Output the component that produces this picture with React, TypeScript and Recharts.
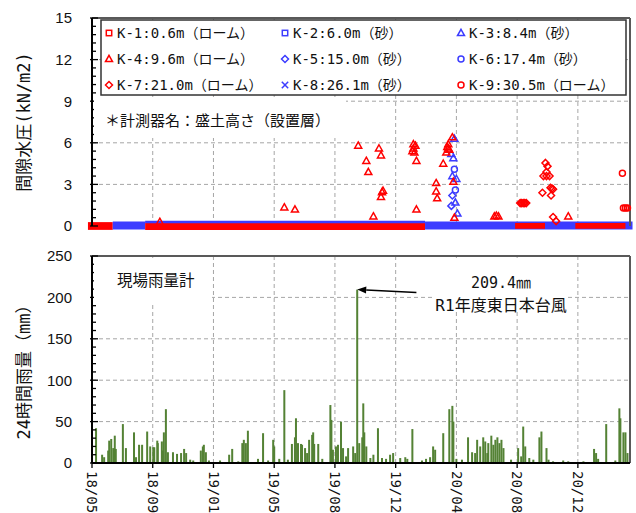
import React from "react";
import {
  ScatterChart,
  Scatter,
  ComposedChart,
  Bar,
  XAxis,
  YAxis,
  CartesianGrid,
  ReferenceArea,
  ReferenceLine,
} from "recharts";

// x = days since 2018/05/01
const X_MAX = 1063;
const X_TICKS = [0, 120, 240, 360, 480, 600, 720, 840, 960];
const X_LABELS = ["18/05", "18/09", "19/01", "19/05", "19/08", "19/12", "20/04", "20/08", "20/12"];

const P_TICKS = [0, 3, 6, 9, 12, 15];
const R_TICKS = [0, 50, 100, 150, 200, 250];

// pore water pressure readings that leave the ~0 baseline: [day, kN/m2]
const K3_PTS: [number, number][] = [[716, 6.3], [710, 5.2], [714, 4.9], [712, 3.6], [720, 3.4], [718, 1.7], [722, 0.9]];
const K4_PTS: [number, number][] = [
  [134, 0.3], [380, 1.35], [401, 1.2], [526, 5.8], [542, 4.7], [546, 3.9], [556, 0.7],
  [567, 5.6], [571, 5.1], [573, 2.45], [575, 2.55], [571, 2.1],
  [635, 5.6], [637, 5.3], [639, 5.8], [635, 5.9], [633, 5.4], [641, 4.7], [641, 1.2],
  [680, 3.1], [680, 2.5], [682, 2.0], [694, 4.5], [700, 5.3], [702, 5.7], [704, 5.9],
  [706, 5.5], [704, 5.6], [712, 6.4], [714, 3.2], [716, 0.6],
  [795, 0.7], [799, 0.75], [803, 0.7], [941, 0.7],
];
const K5_PTS: [number, number][] = [[712, 2.2], [710, 1.45]];
const K6_PTS: [number, number][] = [[716, 4.1], [718, 2.6]];
const K7_PTS: [number, number][] = [
  [846, 1.65], [849, 1.65], [852, 1.65], [855, 1.65], [858, 1.65],
  [896, 4.55], [900, 4.3], [898, 3.9], [892, 3.6], [898, 3.6], [904, 3.6],
  [890, 2.4], [906, 2.75], [909, 2.7], [911, 2.65], [907, 2.2], [911, 0.65], [917, 0.35],
];
const K9_PTS: [number, number][] = [[1048, 3.8], [1050, 1.3], [1054, 1.3], [1058, 1.3]];

// periods where the gauges sit on ~0 (dense markers): [from day, to day]
const BASE_K1: [number, number][] = [[-8, 41]];
const BASE_K2: [number, number][] = [[41, 105]];
const BASE_K2_TOP: [number, number][] = [[105, 658]];
const BASE_K4: [number, number][] = [[105, 658]];
const BASE_K6: [number, number][] = [[658, 1068]];
const BASE_K7: [number, number][] = [[836, 895]];
const BASE_K9: [number, number][] = [[955, 1054]];

// 24h rainfall: [day, mm]
const RAIN: [number, number][] = [
  [8, 42], [20, 10], [24, 7], [32, 15], [34, 27], [38, 29], [42, 18], [45, 33], [47, 17],
  [61, 47], [67, 18], [83, 37], [87, 7], [93, 22], [99, 22], [109, 38], [115, 20], [121, 19],
  [123, 19], [129, 27], [130, 24], [138, 26], [140, 15], [142, 37], [146, 65], [150, 13],
  [160, 13], [168, 11], [176, 12], [182, 17], [186, 12], [194, 4], [200, 3], [215, 15],
  [219, 20], [221, 22], [225, 13], [231, 3], [253, 3], [271, 10], [277, 17], [289, 2],
  [297, 24], [300, 28], [304, 24], [308, 39], [328, 5], [338, 36], [348, 3], [358, 28],
  [360, 20], [370, 5], [380, 88], [387, 4], [395, 23], [401, 31], [403, 54], [407, 24],
  [413, 23], [415, 22], [421, 18], [425, 12], [429, 28], [435, 34], [437, 37], [439, 23],
  [447, 23], [455, 5], [471, 70], [473, 52], [476, 16], [482, 20], [486, 22], [492, 50],
  [496, 18], [502, 8], [506, 18], [516, 20], [520, 12], [524, 209.4], [528, 24], [534, 31],
  [536, 72], [538, 37], [542, 20], [550, 6], [556, 10], [565, 42], [573, 6], [581, 5],
  [589, 10], [595, 12], [609, 6], [619, 7], [623, 5], [633, 41], [652, 3], [660, 5],
  [668, 7], [674, 20], [678, 16], [694, 36], [706, 65], [712, 69], [714, 50], [720, 5],
  [731, 4], [743, 31], [751, 13], [757, 12], [761, 28], [767, 20], [773, 31], [777, 26],
  [781, 12], [783, 24], [789, 33], [793, 22], [797, 28], [801, 31], [805, 24], [809, 28],
  [813, 18], [828, 4], [842, 18], [848, 8], [852, 44], [856, 20], [864, 6], [872, 4],
  [884, 31], [888, 38], [898, 18], [902, 4], [911, 2], [931, 3], [941, 2], [971, 2],
  [992, 17], [996, 12], [1000, 5], [1016, 47], [1034, 3], [1042, 66], [1044, 54],
  [1050, 37], [1054, 37], [1058, 12],
];
const ARROW_TAIL = { day: 641, mm: 206 };

const RED = "#ff0000";
const BLUE = "#3c3cff";
const GREEN = "#548235";
const GRID = "#a6a6a6";
const BORDER = "#595959";
const PLOT_LEFT = 92;
const JP = '"DejaVu Sans Mono", "Noto Sans CJK JP", sans-serif';
const NUM = '"Liberation Sans", Arial, sans-serif';

type Kind = "square" | "triangle" | "diamond" | "circle" | "cross";

const LEGEND: { name: string; color: string; mark: Kind }[] = [
  { name: "K-1:0.6m（ローム）", color: RED, mark: "square" },
  { name: "K-2:6.0m（砂）", color: BLUE, mark: "square" },
  { name: "K-3:8.4m（砂）", color: BLUE, mark: "triangle" },
  { name: "K-4:9.6m（ローム）", color: RED, mark: "triangle" },
  { name: "K-5:15.0m（砂）", color: BLUE, mark: "diamond" },
  { name: "K-6:17.4m（砂）", color: BLUE, mark: "circle" },
  { name: "K-7:21.0m（ローム）", color: RED, mark: "diamond" },
  { name: "K-8:26.1m（砂）", color: BLUE, mark: "cross" },
  { name: "K-9:30.5m（ローム）", color: RED, mark: "circle" },
];

const Mark = ({ cx, cy, kind, color }: { cx: number; cy: number; kind: Kind; color: string }) => {
  const p = { fill: "none", stroke: color, strokeWidth: 1.5 };
  if (kind === "square") return <rect x={cx - 2.7} y={cy - 2.7} width={5.4} height={5.4} {...p} />;
  if (kind === "triangle")
    return <polygon points={`${cx},${cy - 3.6} ${cx + 3.5},${cy + 2.6} ${cx - 3.5},${cy + 2.6}`} {...p} />;
  if (kind === "diamond")
    return <polygon points={`${cx},${cy - 3.5} ${cx + 3.5},${cy} ${cx},${cy + 3.5} ${cx - 3.5},${cy}`} {...p} />;
  if (kind === "circle") return <circle cx={cx} cy={cy} r={3} {...p} />;
  return (
    <g {...p}>
      <line x1={cx - 3.2} y1={cy - 3.2} x2={cx + 3.2} y2={cy + 3.2} />
      <line x1={cx - 3.2} y1={cy + 3.2} x2={cx + 3.2} y2={cy - 3.2} />
    </g>
  );
};

const toXY = (pts: [number, number][]) => pts.map(([x, y]) => ({ x, y }));

const SCATTERS: { data: [number, number][]; color: string; mark: Kind }[] = [
  { data: K3_PTS, color: BLUE, mark: "triangle" },
  { data: K5_PTS, color: BLUE, mark: "diamond" },
  { data: K6_PTS, color: BLUE, mark: "circle" },
  { data: K4_PTS, color: RED, mark: "triangle" },
  { data: K7_PTS, color: RED, mark: "diamond" },
  { data: K9_PTS, color: RED, mark: "circle" },
];

const minorTicks = (major: number[], parts: number) => {
  const step = (major[1] - major[0]) / parts;
  const n = Math.round((major[major.length - 1] - major[0]) / step);
  return Array.from({ length: n + 1 }, (_, i) => Math.round((major[0] + i * step) * 100) / 100);
};

const makeYTick = (major: number[]) => (props: any) => {
  const { y, payload } = props;
  const v = payload.value;
  const isMajor = major.includes(v);
  return (
    <g>
      <line
        x1={PLOT_LEFT - (isMajor ? 2 : 0)}
        x2={PLOT_LEFT + (isMajor ? 6 : 4)}
        y1={y}
        y2={y}
        stroke="#000"
        strokeWidth={1.3}
      />
      {isMajor && (
        <text x={72} y={y} dy="0.36em" textAnchor="end" fontSize={15} fontFamily={NUM} fill="#111">
          {v}
        </text>
      )}
    </g>
  );
};

const XTick = (props: any) => {
  const { x, payload } = props;
  const i = X_TICKS.indexOf(payload.value);
  const y0 = 231;
  return (
    <text
      x={x}
      y={y0}
      dy="0.35em"
      transform={`rotate(90 ${x} ${y0})`}
      fontSize={14}
      fontFamily={JP}
      fill="#111"
    >
      {X_LABELS[i]}
    </text>
  );
};

// daily bars are narrower than a pixel on this scale, so draw them 2px wide
const RainBar = (p: any) => {
  const { x, y, width, height } = p;
  if (!height || height <= 0) return null;
  return <rect x={x + width / 2 - 1} y={y} width={2} height={height} fill={GREEN} />;
};

const bands = (segs: [number, number][], y1: number, y2: number, color: string, key: string) =>
  segs.map(([a, b], i) => (
    <ReferenceArea
      key={`${key}-${i}`}
      x1={a}
      x2={b}
      y1={y1}
      y2={y2}
      fill={color}
      fillOpacity={1}
      stroke="none"
      ifOverflow="visible"
    />
  ));

const Arrow = (p: any) => {
  const { x1, y1, x2, y2 } = p;
  const ang = Math.atan2(y2 - y1, x2 - x1);
  const len = 9;
  const w = 3.5;
  const bx = x2 - len * Math.cos(ang);
  const by = y2 - len * Math.sin(ang);
  const nx = -Math.sin(ang) * w;
  const ny = Math.cos(ang) * w;
  return (
    <g>
      <line x1={x1} y1={y1} x2={bx} y2={by} stroke="#000" strokeWidth={1.5} />
      <polygon points={`${x2},${y2} ${bx + nx},${by + ny} ${bx - nx},${by - ny}`} fill="#000" />
    </g>
  );
};

export default function App() {
  const rainData = RAIN.map(([day, mm]) => ({ day, mm }));
  const peak = RAIN.reduce((a, b) => (b[1] > a[1] ? b : a));
  const pMinor = minorTicks(P_TICKS, 5);
  const rMinor = minorTicks(R_TICKS, 5);
  const legendCols = [103, 279, 455];
  const legendRows = [33, 59, 85];

  return (
    <div style={{ position: "absolute", left: 0, top: 0, width: 636, height: 513, background: "#fff" }}>
      <ScatterChart width={636} height={240} margin={{ top: 18, right: 6, bottom: 14, left: 0 }}>
        <CartesianGrid
          horizontalValues={[3, 6, 9, 12]}
          verticalValues={X_TICKS.slice(1)}
          stroke={GRID}
          strokeDasharray="4 3"
        />
        <XAxis type="number" dataKey="x" domain={[0, X_MAX]} ticks={X_TICKS} hide />
        <YAxis
          type="number"
          dataKey="y"
          domain={[0, 15]}
          ticks={pMinor}
          interval={0}
          width={92}
          axisLine={{ stroke: "#000", strokeWidth: 2 }}
          tickLine={false}
          tick={makeYTick(P_TICKS)}
        />
        <ReferenceLine y={15} stroke={BORDER} strokeWidth={2} />
        <ReferenceLine x={X_MAX} stroke={BORDER} strokeWidth={2} />
        {bands(BASE_K1, -0.28, 0.28, RED, "k1")}
        {bands(BASE_K2, -0.25, 0.32, BLUE, "k2")}
        {bands(BASE_K4, -0.28, 0.26, RED, "k4")}
        {bands(BASE_K2_TOP, 0.2, 0.38, BLUE, "k2t")}
        {bands(BASE_K6, -0.25, 0.32, BLUE, "k6")}
        {bands(BASE_K7, -0.2, 0.22, RED, "k7")}
        {bands(BASE_K9, -0.2, 0.22, RED, "k9")}
        {SCATTERS.map((s, i) => (
          <Scatter
            key={i}
            data={toXY(s.data)}
            isAnimationActive={false}
            shape={(p: any) => <Mark cx={p.cx} cy={p.cy} kind={s.mark} color={s.color} />}
          />
        ))}
      </ScatterChart>

      <ComposedChart
        width={636}
        height={273}
        data={rainData}
        margin={{ top: 16, right: 6, bottom: 0, left: 0 }}
      >
        <CartesianGrid
          horizontalValues={[50, 100, 150, 200]}
          verticalValues={X_TICKS.slice(1)}
          stroke={GRID}
          strokeDasharray="4 3"
        />
        <XAxis
          type="number"
          dataKey="day"
          domain={[0, X_MAX]}
          ticks={X_TICKS}
          interval={0}
          height={50}
          axisLine={{ stroke: "#000", strokeWidth: 2 }}
          tickLine={{ stroke: "#000", strokeWidth: 1.3 }}
          tickSize={5}
          tick={XTick}
        />
        <YAxis
          type="number"
          domain={[0, 250]}
          ticks={rMinor}
          interval={0}
          width={92}
          axisLine={{ stroke: "#000", strokeWidth: 2 }}
          tickLine={false}
          tick={makeYTick(R_TICKS)}
        />
        <ReferenceLine y={250} stroke={BORDER} strokeWidth={2} />
        <ReferenceLine x={X_MAX} stroke={BORDER} strokeWidth={2} />
        <Bar dataKey="mm" fill={GREEN} shape={RainBar} isAnimationActive={false} />
        <ReferenceLine
          segment={[
            { x: ARROW_TAIL.day, y: ARROW_TAIL.mm },
            { x: peak[0], y: peak[1] },
          ]}
          shape={Arrow}
        />
      </ComposedChart>

      <svg
        width={636}
        height={513}
        style={{ position: "absolute", left: 0, top: 0, pointerEvents: "none" }}
      >
        {/* legend box */}
        <rect x={101} y={20} width={525} height={75} fill="#fff" stroke="#333" strokeWidth={1.5} />
        {LEGEND.map((l, i) => {
          const cx = legendCols[i % 3];
          const cy = legendRows[Math.floor(i / 3)];
          return (
            <g key={l.name}>
              <Mark cx={cx + 6} cy={cy} kind={l.mark} color={l.color} />
              <text x={cx + 14} y={cy} dy="0.36em" fontSize={14} fontFamily={JP} fill="#111">
                {l.name}
              </text>
            </g>
          );
        })}
        <rect x={94} y={97} width={252} height={41} fill="#fff" />
        <text x={105} y={121} dy="0.36em" fontSize={15} fontFamily={JP} fill="#111">
          ＊計測器名：盛土高さ（設置層）
        </text>

        <text
          x={24}
          y={122}
          textAnchor="middle"
          dominantBaseline="central"
          transform="rotate(-90 24 122)"
          fontSize={17}
          fontFamily={JP}
          fill="#111"
        >
          間隙水圧(kN/m2)
        </text>
        <text
          x={24}
          y={368}
          textAnchor="middle"
          dominantBaseline="central"
          transform="rotate(-90 24 368)"
          fontSize={17}
          fontFamily={JP}
          fill="#111"
        >
          24時間雨量（mm）
        </text>

        <rect x={94} y={258} width={118} height={44} fill="#fff" />
        <text x={117} y={280} dy="0.36em" fontSize={15.5} fontFamily={JP} fill="#111">
          現場雨量計
        </text>
        <rect x={433} y={258} width={134} height={54} fill="#fff" />
        <text x={501} y={283} dy="0.36em" textAnchor="middle" fontSize={15} fontFamily={JP} fill="#111">
          209.4㎜
        </text>
        <text x={501} y={305} dy="0.36em" textAnchor="middle" fontSize={16} fontFamily={JP} fill="#111">
          R1年度東日本台風
        </text>
      </svg>
    </div>
  );
}
